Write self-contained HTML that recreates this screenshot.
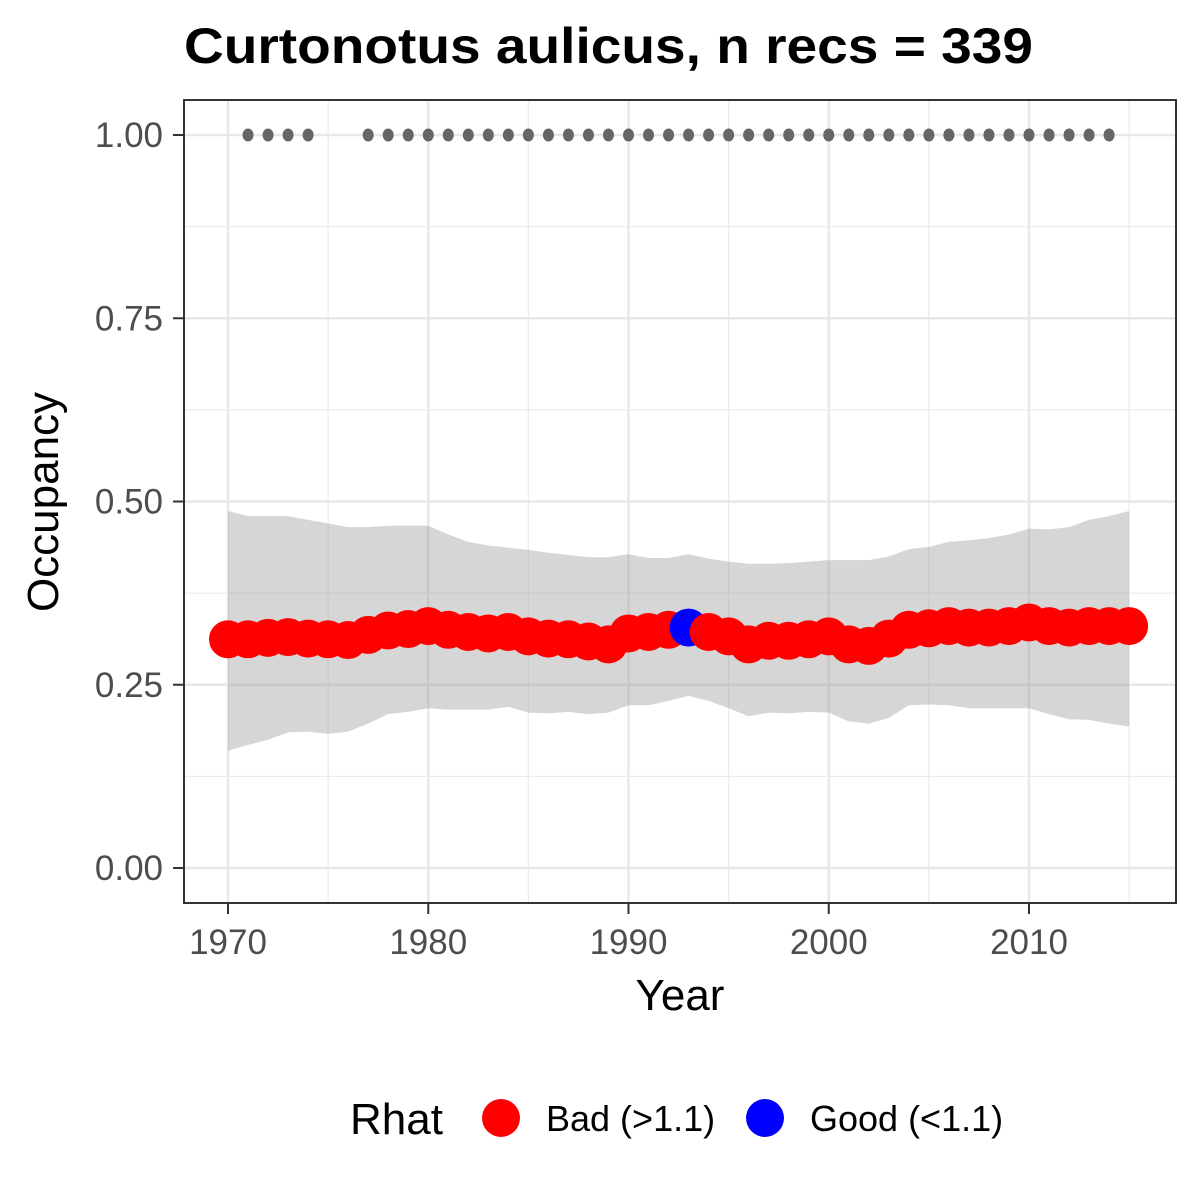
<!DOCTYPE html>
<html><head><meta charset="utf-8"><style>
body{margin:0;background:#fff;}
svg{display:block;font-family:"Liberation Sans",Arial,sans-serif;}
</style></head><body>
<svg id="chart" width="1200" height="1200" xmlns="http://www.w3.org/2000/svg">
<rect width="1200" height="1200" fill="#fff"/>
<text x="184" y="63" font-size="50" font-weight="bold" textLength="849" lengthAdjust="spacingAndGlyphs">Curtonotus aulicus, n recs = 339</text>
<g id="grid"></g>
<g id="ribbon"></g>
<g id="dots"></g>
<g id="points"></g>
<rect x="184" y="100" width="992" height="803" fill="none" stroke="#333" stroke-width="2"/>
<g id="axes"></g>
<text x="680" y="1010" font-size="44" text-anchor="middle">Year</text>
<text transform="translate(58,502) rotate(-90)" font-size="44" text-anchor="middle">Occupancy</text>
<g>
<text x="350" y="1134" font-size="44">Rhat</text>
<circle cx="501" cy="1118" r="19" fill="#ff0000"/>
<text x="546" y="1131" font-size="36">Bad (&gt;1.1)</text>
<circle cx="765" cy="1118" r="19" fill="#0000ff"/>
<text x="810" y="1131" font-size="36">Good (&lt;1.1)</text>
</g>
</svg>
<script>
const years=[1970,1971,1972,1973,1974,1975,1976,1977,1978,1979,1980,1981,1982,1983,1984,1985,1986,1987,1988,1989,1990,1991,1992,1993,1994,1995,1996,1997,1998,1999,2000,2001,2002,2003,2004,2005,2006,2007,2008,2009,2010,2011,2012,2013,2014,2015];
const occupancy=[.312,.312,.314,.315,.313,.312,.311,.318,.324,.326,.33,.325,.322,.32,.322,.316,.313,.312,.309,.305,.32,.322,.325,.328,.322,.316,.305,.31,.31,.312,.316,.305,.303,.313,.325,.327,.33,.328,.328,.33,.335,.33,.328,.33,.33,.33];
const upper=[.487,.48,.48,.48,.475,.47,.465,.465,.467,.467,.467,.455,.445,.44,.437,.434,.43,.427,.424,.424,.428,.423,.423,.428,.422,.418,.415,.415,.416,.418,.42,.42,.42,.425,.435,.438,.445,.447,.45,.455,.463,.462,.465,.475,.48,.487];
const lower=[.16,.168,.175,.185,.186,.183,.186,.197,.21,.213,.218,.216,.216,.216,.22,.212,.211,.213,.21,.212,.222,.222,.228,.235,.228,.218,.207,.212,.211,.213,.212,.2,.197,.205,.222,.223,.222,.218,.218,.218,.218,.21,.203,.202,.197,.193];
const rhatGood=[false,false,false,false,false,false,false,false,false,false,false,false,false,false,false,false,false,false,false,false,false,false,false,true,false,false,false,false,false,false,false,false,false,false,false,false,false,false,false,false,false,false,false,false,false,false];
const recordYears=[1971,1972,1973,1974,1977,1978,1979,1980,1981,1982,1983,1984,1985,1986,1987,1988,1989,1990,1991,1992,1993,1994,1995,1996,1997,1998,1999,2000,2001,2002,2003,2004,2005,2006,2007,2008,2009,2010,2011,2012,2013,2014];
const xTicks=[1970,1980,1990,2000,2010];
const yTicks=[0,0.25,0.5,0.75,1];
const yTickLabels=["0.00","0.25","0.50","0.75","1.00"];
const NS="http://www.w3.org/2000/svg";
const X=v=>228+(v-1970)*20.025;
const Y=v=>868-v*733;
function mk(tag,attrs,parent){const e=document.createElementNS(NS,tag);for(const k in attrs)e.setAttribute(k,attrs[k]);document.getElementById(parent).appendChild(e);return e;}
for(let i=0;i<xTicks.length;i++){
  const l=mk('line',{x1:X(xTicks[i]),x2:X(xTicks[i]),y1:100,y2:903,stroke:'#e8e8e8','stroke-width':2.4},'grid');
  
  
  const m=mk('line',{x1:X(xTicks[i]+5),x2:X(xTicks[i]+5),y1:100,y2:903,stroke:'#ececec','stroke-width':1.3},'grid');
  
  
}
for(let i=0;i<yTicks.length;i++){
  const l=mk('line',{x1:184,x2:1176,y1:Y(yTicks[i]),y2:Y(yTicks[i]),stroke:'#e8e8e8','stroke-width':2.4},'grid');
  
  
  if(i<yTicks.length-1){
    const m=mk('line',{x1:184,x2:1176,y1:Y(yTicks[i]+0.125),y2:Y(yTicks[i]+0.125),stroke:'#ececec','stroke-width':1.3},'grid');
    
    
  }
}
let d='M'+years.map((y,i)=>X(y)+','+Y(upper[i])).join('L');
for(let i=years.length-1;i>=0;i--)d+='L'+X(years[i])+','+Y(lower[i]);
const rib=mk('path',{d:d+'Z',fill:'#999','fill-opacity':0.4},'ribbon');


for(const y of recordYears){
  const c=mk('ellipse',{cx:X(y),cy:Y(1),rx:5.5,ry:6.5,fill:'#666'},'dots');
  
  
}
for(let i=0;i<years.length;i++){
  const c=mk('circle',{cx:X(years[i]),cy:Y(occupancy[i]),r:19,fill:rhatGood[i]?'#0000ff':'#ff0000'},'points');
  
  
}
for(let i=0;i<xTicks.length;i++){
  const t=mk('line',{x1:X(xTicks[i]),x2:X(xTicks[i]),y1:903,y2:914,stroke:'#333','stroke-width':2},'axes');
  
  
  const tx=mk('text',{x:X(xTicks[i]),y:954,'font-size':35,fill:'#4d4d4d','text-anchor':'middle'},'axes');
  tx.textContent=xTicks[i];
  
  
}
for(let i=0;i<yTicks.length;i++){
  const t=mk('line',{x1:173,x2:184,y1:Y(yTicks[i]),y2:Y(yTicks[i]),stroke:'#333','stroke-width':2},'axes');
  
  
  const tx=mk('text',{x:163,y:Y(yTicks[i])+12,'font-size':35,fill:'#4d4d4d','text-anchor':'end'},'axes');
  tx.textContent=yTickLabels[i];
  
  
}
</script>
</body></html>
